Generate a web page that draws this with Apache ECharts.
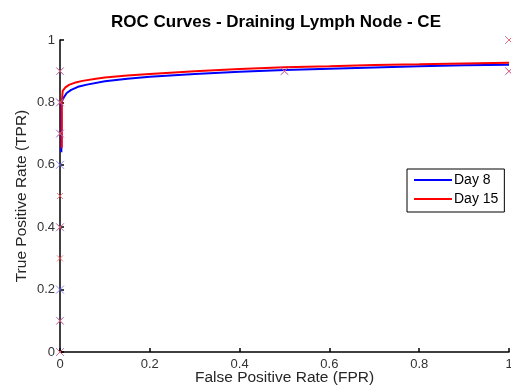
<!DOCTYPE html>
<html>
<head>
<meta charset="utf-8">
<script src="https://cdn.jsdelivr.net/npm/echarts@6/dist/echarts.min.js"></script>
<style>
html,body{margin:0;padding:0;background:#fff;}
#chart{width:511px;height:387px;}
</style>
</head>
<body>
<div id="chart"></div>
<script>
var titleText = 'ROC Curves - Draining Lymph Node - CE';
var xLabel = 'False Positive Rate (FPR)';
var yLabel = 'True Positive Rate (TPR)';
var seriesNames = ['Day 8', 'Day 15'];
var xTicks = [0, 0.2, 0.4, 0.6, 0.8, 1];
var yTicks = [0, 0.2, 0.4, 0.6, 0.8, 1];

var fprDay8 = [0.003, 0.003, 0.008, 0.015, 0.025, 0.04, 0.06, 0.1, 0.15, 0.2, 0.3, 0.4, 0.5, 0.6, 0.7, 0.8, 0.9, 1.0];
var tprDay8 = [0.64, 0.80, 0.815, 0.83, 0.84, 0.85, 0.857, 0.868, 0.876, 0.882, 0.891, 0.898, 0.904, 0.908, 0.912, 0.916, 0.919, 0.921];

var fprDay15 = [0.004, 0.004, 0.006, 0.012, 0.02, 0.035, 0.05, 0.08, 0.1, 0.15, 0.2, 0.3, 0.4, 0.5, 0.6, 0.7, 0.8, 0.9, 1.0];
var tprDay15 = [0.655, 0.80, 0.837, 0.848, 0.856, 0.864, 0.869, 0.876, 0.88, 0.886, 0.891, 0.9, 0.907, 0.913, 0.916, 0.92, 0.922, 0.925, 0.927];

var markFprDay8 = [0, 0, 0, 0, 0, 0, 0, 0, 0.5, 1, 1];
var markTprDay8 = [0, 0.1, 0.2, 0.4, 0.6, 0.7, 0.8, 0.9, 0.9, 0.9, 1.0];
var markFprDay15 = [0, 0, 0, 0, 0, 0, 0, 0, 0.5, 1, 1];
var markTprDay15 = [0, 0.1, 0.3, 0.4, 0.5, 0.7, 0.8, 0.9, 0.9, 0.9, 1.0];

function zip(a, b) { return a.map(function (v, i) { return [v, b[i]]; }); }
function fmt(ticks) {
  return function (v) { var r = Math.round(v * 10) / 10; return ticks.indexOf(r) >= 0 ? String(r) : ''; };
}

var FONT = 'Liberation Sans';
var xPath = 'path://M0,0L10,10M10,0L0,10';

var chart = echarts.init(document.getElementById('chart'), null, {renderer: 'canvas'});
chart.setOption({
  animation: false,
  backgroundColor: '#ffffff',
  title: {
    text: titleText,
    left: 271, top: 9, textAlign: 'center',
    textStyle: {fontFamily: FONT, fontSize: 17, fontWeight: 'bold', color: '#000'}
  },
  legend: {
    data: seriesNames,
    orient: 'vertical',
    left: 407, top: 169,
    itemWidth: 38, itemHeight: 2, itemGap: 5,
    padding: [4, 6, 6, 7],
    borderColor: '#000', borderWidth: 1,
    backgroundColor: '#fff',
    textStyle: {fontFamily: FONT, fontSize: 14, color: '#000', padding: [0, 0, 0, -3]},
    icon: 'rect'
  },
  grid: {left: 60, right: 2, top: 40, bottom: 35, containLabel: false, outerBoundsMode: 'none'},
  xAxis: {
    type: 'value', min: 0, max: 1, interval: 0.2,
    name: xLabel, nameLocation: 'middle', nameGap: 18, nameMoveOverlap: false,
    nameTextStyle: {fontFamily: FONT, fontSize: 15.5, color: '#262626'},
    axisLine: {show: true, onZero: false, lineStyle: {color: '#000', width: 1.5}},
    axisTick: {show: true, inside: true, length: 4, lineStyle: {color: '#000', width: 1.5}},
    axisLabel: {fontFamily: FONT, fontSize: 13, color: '#333', margin: 6, formatter: fmt(xTicks)},
    splitLine: {show: false}
  },
  yAxis: {
    type: 'value', min: 0, max: 1, interval: 0.2,
    name: yLabel, nameLocation: 'middle', nameGap: 30, nameRotate: 90, nameMoveOverlap: false,
    nameTextStyle: {fontFamily: FONT, fontSize: 15.5, color: '#262626'},
    axisLine: {show: true, onZero: false, lineStyle: {color: '#000', width: 1.5}},
    axisTick: {show: true, inside: true, length: 4, lineStyle: {color: '#000', width: 1.5}},
    axisLabel: {fontFamily: FONT, fontSize: 13, color: '#333', margin: 5, formatter: fmt(yTicks)},
    splitLine: {show: false}
  },
  series: [
    {
      name: seriesNames[0], type: 'line', data: zip(fprDay8, tprDay8),
      showSymbol: false, symbol: 'none', clip: false,
      lineStyle: {color: '#0000ff', width: 2}, itemStyle: {color: '#0000ff'}, z: 3
    },
    {
      name: seriesNames[1], type: 'line', data: zip(fprDay15, tprDay15),
      showSymbol: false, symbol: 'none', clip: false,
      lineStyle: {color: '#ff0000', width: 2}, itemStyle: {color: '#ff0000'}, z: 4
    },
    {
      name: 'm8', type: 'scatter', data: zip(markFprDay8, markTprDay8),
      symbol: xPath, symbolSize: 8, clip: false, silent: true,
      itemStyle: {color: 'none', borderColor: '#6f6fff', borderWidth: 1}, z: 5
    },
    {
      name: 'm15', type: 'scatter', data: zip(markFprDay15, markTprDay15),
      symbol: xPath, symbolSize: 6, clip: false, silent: true,
      itemStyle: {color: 'none', borderColor: '#ff5a5a', borderWidth: 1}, z: 6
    }
  ]
});
</script>
</body>
</html>
